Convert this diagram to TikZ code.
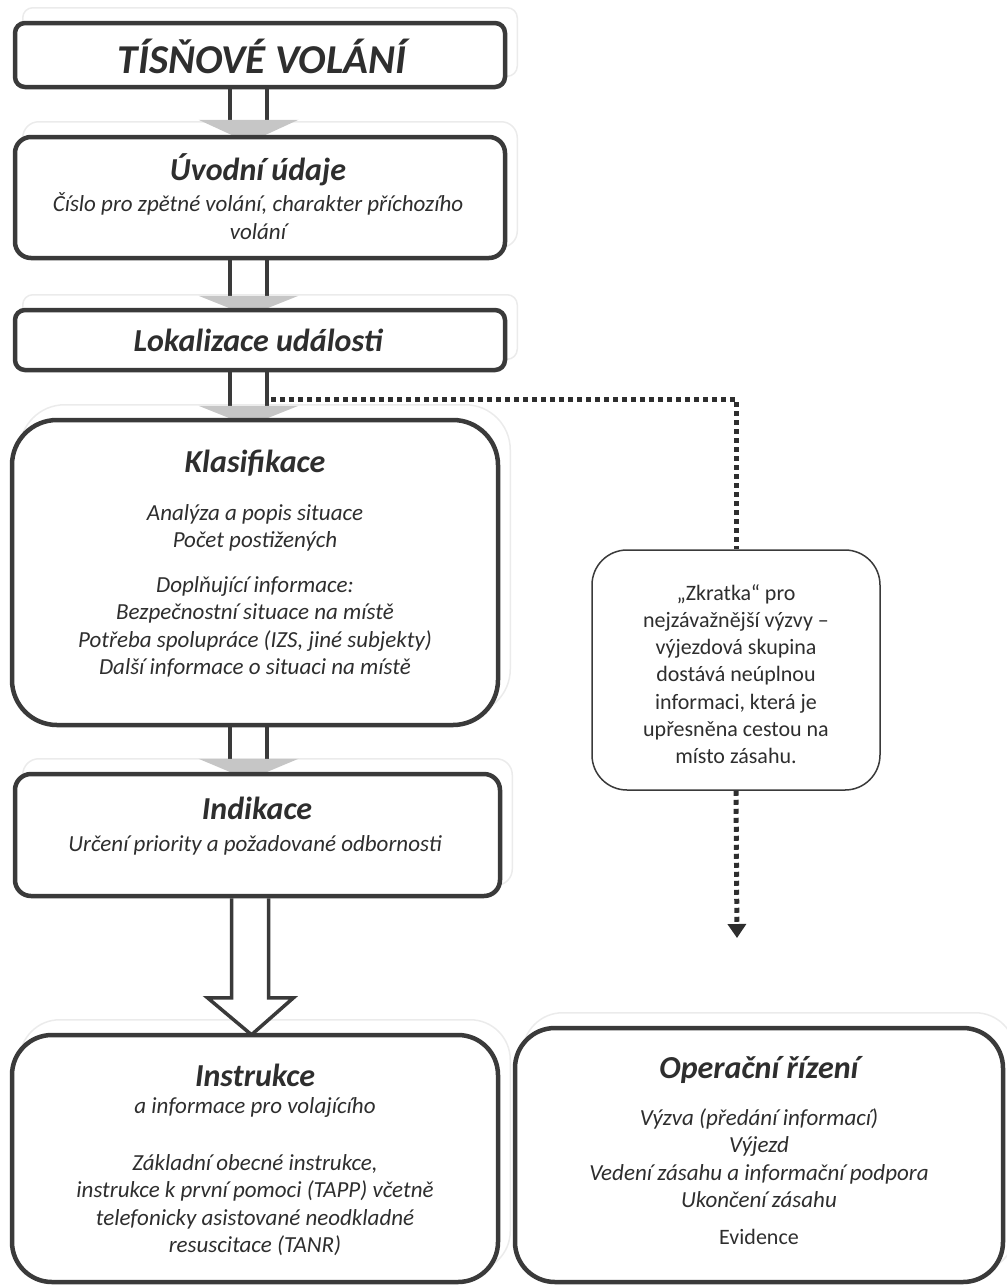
\documentclass[tikz,border=0pt]{standalone}
\usepackage{fontspec}
\setmainfont{Carlito}
\usetikzlibrary{arrows.meta,calc,backgrounds}
\definecolor{ink}{HTML}{2E2E2E}
\definecolor{edge}{HTML}{3A3A3A}
\newcommand\flowarrow[3]{% from, to, head offset
  \draw[shaft] ($(#1.south -| ax)+(-18.5,0)$) -- ($(#2.north -| ax)+(-18.5,-#3)$);
  \draw[shaft] ($(#1.south -| ax)+(18.5,0)$) -- ($(#2.north -| ax)+(18.5,-#3)$);
  \fill[headfill] ($(#2.north -| ax)+(-50,-#3)$) -- ($(#2.north -| ax)+(50,-#3)$) -- ($(#2.north -| ax)+(0,8)$) -- cycle;
}
\begin{document}
\begin{tikzpicture}[x=1pt,y=-1pt,
  box/.style={draw=edge, line width=4.5pt, fill=white, rounded corners=#1, inner sep=0pt},
  thinbox/.style={draw=edge, line width=1.5pt, fill=white, rounded corners=#1, inner sep=0pt},
  ghost/.style={draw=black!8, line width=1.5pt, rounded corners=#1},
  txt/.style={text=ink, align=center, inner sep=0pt},
  bigtitle/.style={txt, font=\fontsize{41}{48}\selectfont\bfseries\itshape},
  title/.style={txt, font=\fontsize{32}{38}\selectfont\bfseries\itshape},
  body/.style={txt, font=\fontsize{23}{27.5}\selectfont\itshape},
  plain/.style={txt, font=\fontsize{22}{27.2}\selectfont},
  shaft/.style={draw=edge, line width=4pt},
  headfill/.style={fill=gray!45},
  dots/.style={draw=ink, line width=5pt, dash pattern=on 5pt off 4pt}
]
\useasboundingbox (0,0) rectangle (1007,1286);
\coordinate (ax) at (248.5,0);

% boxes
\node[box=10pt, minimum width=490pt, minimum height=64pt] (b1) at (260,55) {};
\node[box=16pt, minimum width=490pt, minimum height=121pt] (b2) at (260,197.5) {};
\node[box=10pt, minimum width=490pt, minimum height=60pt] (b3) at (260,340) {};
\node[box=45pt, minimum width=486pt, minimum height=305pt] (b4) at (255,572.5) {};
\node[box=16pt, minimum width=485pt, minimum height=122pt] (b5) at (257.5,835) {};
\node[box=40pt, minimum width=486pt, minimum height=247pt] (b6) at (255,1158.5) {};
\node[box=40pt, minimum width=488pt, minimum height=254pt] (b7) at (759,1155) {};
\node[thinbox=35pt, minimum width=288pt, minimum height=240pt] (z) at (736,670) {};

% texts
\node[bigtitle] (t1) at (262,56) {TÍSŇOVÉ VOLÁNÍ};
\node[title] (t2) at (258,170) {Úvodní údaje};
\node[body] (t2b) at (258,216) {Číslo pro zpětné volání, charakter příchozího\\volání};
\node[title] (t3) at (258,340) {Lokalizace události};
\node[title] (t4) at (255,463) {Klasifikace};
\node[body] (t4a) at (255,528) {Analýza a popis situace\\Počet postižených};
\node[body] (t4b) at (255,627) {Doplňující informace:\\Bezpečnostní situace na místě\\Potřeba spolupráce (IZS, jiné subjekty)\\Další informace o situaci na místě};
\node[title] (t5) at (257,808) {Indikace};
\node[body] (t5b) at (255,845) {Určení priority a požadované odbornosti};
\node[title] (t6) at (255,1075) {Instrukce};
\node[body] (t6a) at (255,1107) {a informace pro volajícího};
\node[body] (t6b) at (255,1205) {Základní obecné instrukce,\\instrukce k první pomoci (TAPP) včetně\\telefonicky asistované neodkladné\\resuscitace (TANR)};
\node[title] (t7) at (759,1070) {Operační řízení};
\node[body] (t7b) at (759,1158) {Výzva (předání informací)\\Výjezd\\Vedení zásahu a informační podpora\\Ukončení zásahu};
\node[plain] (t7c) at (759,1237) {Evidence};
\node[plain] (tz) at (736,674) {„Zkratka“ pro\\nejzávažnější výzvy –\\výjezdová skupina\\dostává neúplnou\\informaci, která je\\upřesněna cestou na\\místo zásahu.};

\coordinate (dstart) at (271,399);
\coordinate (dend) at (737,938);

\begin{scope}[on background layer]
  \foreach \n/\r in {b1/10pt,b2/16pt,b3/10pt,b4/45pt,b5/16pt,b6/40pt,b7/40pt}{
    \draw[ghost=\r] ($(\n.south west)+(10,-13)$) rectangle ($(\n.north east)+(10,-13)$);
  }
  \flowarrow{b1}{b2}{15}
  \flowarrow{b2}{b3}{12}
  \flowarrow{b3}{b4}{12}
  \flowarrow{b4}{b5}{13}
  % big outlined arrow
  \draw[draw=edge, line width=3.5pt, fill=white, line join=miter]
    ($(b5.south -| ax)+(-17,0)$) -- ($(b6.north -| ax)+(-17,-35)$) -- ($(b6.north -| ax)+(-41,-35)$)
    -- ($(b6.north -| ax)+(3,2)$) -- ($(b6.north -| ax)+(45,-35)$) -- ($(b6.north -| ax)+(20,-35)$)
    -- ($(b5.south -| ax)+(20,0)$);
  \draw[dots] (dstart) -| (z.north);
\end{scope}
\draw[dots, -{Triangle[length=14pt,width=18pt]}] (z.south) -- (dend);
\end{tikzpicture}
\end{document}
